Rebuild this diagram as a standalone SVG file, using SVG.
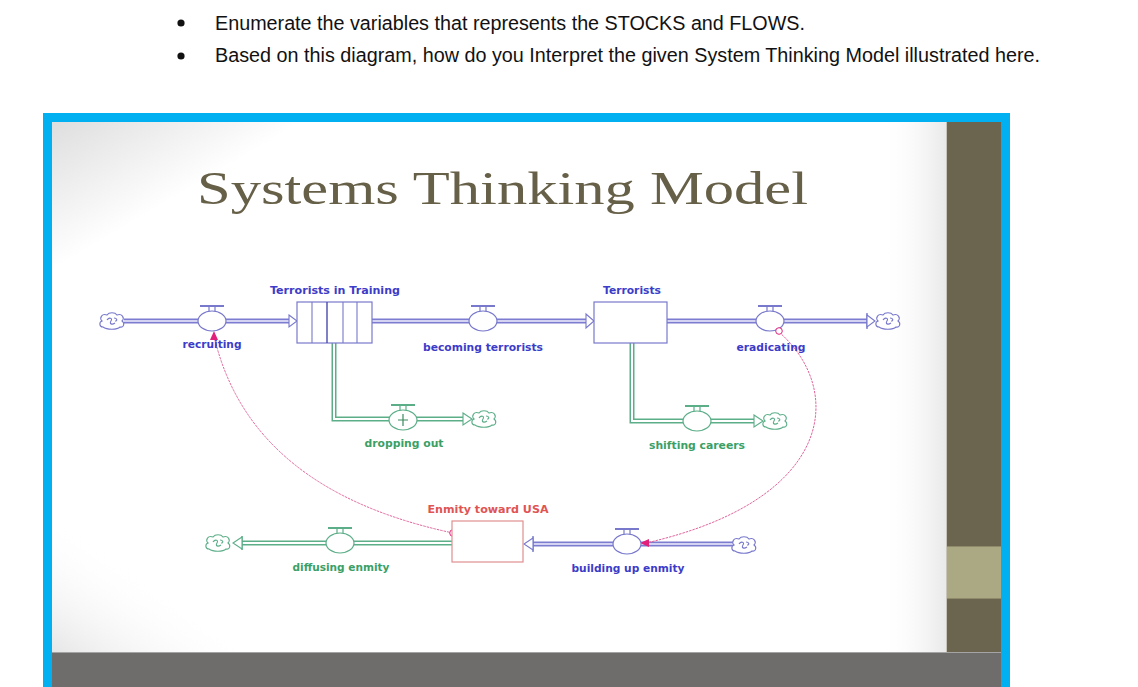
<svg xmlns="http://www.w3.org/2000/svg" xmlns:xlink="http://www.w3.org/1999/xlink" width="1138" height="687" viewBox="0 0 1138 687">
<style>
.q{font-family:"Liberation Sans Narrow","Liberation Sans",Arial,sans-serif;font-size:20px;fill:#111}
.title{font-family:"Liberation Serif","DejaVu Serif",serif;font-size:46px;fill:#676048}
.lb{font-family:"DejaVu Sans","Liberation Sans",sans-serif;font-size:10px;font-weight:bold}
.blue{fill:#3c3cc8}
.green{fill:#3aa066}
.red{fill:#e05454}
.po{fill:none;stroke-width:5}
.pi{fill:none;stroke-width:2}
.bpo{stroke:#7c7cd0}
.bpi{stroke:#d4d4f2}
.gpo{stroke:#5cae88}
.gpi{stroke:#ffffff}
.bs{stroke:#7878cc}
.gs{stroke:#5cae88}
.link{fill:none;stroke:#e0649c;stroke-width:1;stroke-dasharray:2.5 1}
.pink{fill:#e0207a}
</style>
<defs>
<linearGradient id="tl" x1="0" y1="0" x2="1" y2="1">
<stop offset="0" stop-color="#dedede"/>
<stop offset="0.14" stop-color="#ffffff"/>
<stop offset="1" stop-color="#ffffff"/>
</linearGradient>
<linearGradient id="bl" x1="0" y1="1" x2="0.35" y2="0.6">
<stop offset="0" stop-color="#e6e6e6" stop-opacity="1"/>
<stop offset="1" stop-color="#ffffff" stop-opacity="0"/>
</linearGradient>
<linearGradient id="rt" x1="0" y1="0" x2="1" y2="0">
<stop offset="0" stop-color="#ffffff" stop-opacity="0"/>
<stop offset="1" stop-color="#e8e8e8" stop-opacity="1"/>
</linearGradient>
<g id="cloud" fill="#ffffff" stroke-width="1.1">
<path d="M-9,6 C-13,6 -13,1 -10,0 C-13,-3 -10,-8 -5,-6 C-3,-9 3,-9 5,-6 C10,-8 13,-3 10,0 C13,2 12,7 8,6 C5,9 -5,9 -9,6 Z"/>
<path d="M-5,-1 C-3,-4 1,-3 -1,0 C-3,3 0,4 3,2 M2,-3 C5,-3 6,0 3,0" fill="none"/>
</g>
<g id="valve" fill="#ffffff" stroke-width="1.2">
<ellipse cx="0" cy="0" rx="14" ry="10"/>
<line x1="-12" y1="-15" x2="12" y2="-15" stroke-width="2"/>
<path d="M-3,-15 V-10 M3,-15 V-10" fill="none"/>
</g>
</defs>

<!-- top questions -->
<g id="questions">
<circle cx="181" cy="23" r="3.6" fill="#111"/>
<text class="q" x="215" y="30" textLength="590" lengthAdjust="spacingAndGlyphs">Enumerate the variables that represents the STOCKS and FLOWS.</text>
<circle cx="181" cy="56" r="3.6" fill="#111"/>
<text class="q" x="215" y="62" textLength="825" lengthAdjust="spacingAndGlyphs">Based on this diagram, how do you Interpret the given System Thinking Model illustrated here.</text>
</g>

<!-- slide frame -->
<g id="slide">
<rect x="43" y="113" width="967" height="580" fill="#00b0f0"/>
<rect x="52" y="122" width="895" height="530" fill="url(#tl)"/>
<rect x="52" y="450" width="260" height="202" fill="url(#bl)"/>
<rect x="880" y="122" width="67" height="530" fill="url(#rt)"/>
<line x1="946.5" y1="122" x2="946.5" y2="652" stroke="#c8c4b8" stroke-width="1"/>
<rect x="947" y="122" width="54" height="530" fill="#6b644f"/>
<rect x="947" y="546" width="54" height="53" fill="#aba983"/>
<line x1="947" y1="546.5" x2="1001" y2="546.5" stroke="#8f8a6a" stroke-width="1"/>
<line x1="947" y1="598.5" x2="1001" y2="598.5" stroke="#8f8a6a" stroke-width="1"/>
<rect x="52" y="652" width="949" height="35" fill="#6e6d6c"/>
<line x1="52" y1="652.5" x2="1001" y2="652.5" stroke="#a4a4a4" stroke-width="1.2"/>
<text class="title" x="197" y="204" textLength="611" lengthAdjust="spacingAndGlyphs">Systems Thinking Model</text>
</g>

<!-- connectors (pipes and links) -->
<g id="connectors">
<path class="po bpo" d="M124,321 H289"/>
<path class="pi bpi" d="M124,321 H289"/>
<polygon points="289,315 297,321 289,327" fill="#ffffff" class="bs" stroke-width="1.1"/>
<path class="po bpo" d="M372,321 H586"/>
<path class="pi bpi" d="M372,321 H586"/>
<polygon points="586,314 594,321 586,328" fill="#ffffff" class="bs" stroke-width="1.1"/>
<path class="po bpo" d="M667,321 H867"/>
<path class="pi bpi" d="M667,321 H867"/>
<path d="M867,313 V329" class="bs" stroke-width="1.4"/>
<polygon points="867,315 875,321 867,327" fill="#ffffff" class="bs" stroke-width="1.1"/>
<path class="po gpo" d="M334,343 V419 H463"/>
<path class="pi gpi" d="M334,343 V419 H463"/>
<polygon points="463,413 472,419 463,425" fill="#ffffff" class="gs" stroke-width="1.1"/>
<path class="po gpo" d="M632,343 V421 H754"/>
<path class="pi gpi" d="M632,343 V421 H754"/>
<polygon points="754,415 763,421 754,427" fill="#ffffff" class="gs" stroke-width="1.1"/>
<path class="po gpo" d="M452,543 H242"/>
<path class="pi gpi" d="M452,543 H242"/>
<path d="M242,536 V550" class="gs" stroke-width="1.4"/>
<polygon points="242,537 233,543 242,549" fill="#ffffff" class="gs" stroke-width="1.1"/>
<path class="po bpo" d="M733,544 H533"/>
<path class="pi bpi" d="M733,544 H533"/>
<path d="M533,536 V552" class="bs" stroke-width="1.4"/>
<polygon points="533,538 524,544 533,550" fill="#ffffff" class="bs" stroke-width="1.1"/>
<path class="link" d="M453,533 Q250,490 214,336"/>
<polygon class="pink" points="214,331 210,340 218,340"/>
<circle cx="453" cy="533" r="3.3" fill="#ffffff" stroke="#e0207a" stroke-width="1"/>
<path class="link" d="M779,332 C845,390 835,500 646,543"/>
<polygon class="pink" points="640,543 649,539 649,547"/>
</g>

<!-- clouds -->
<g id="clouds">
<use href="#cloud" x="112" y="321" stroke="#7878cc"/>
<use href="#cloud" x="888" y="321" stroke="#7878cc"/>
<use href="#cloud" x="484" y="419" stroke="#5cae88"/>
<use href="#cloud" x="775" y="421" stroke="#5cae88"/>
<use href="#cloud" x="218" y="543" stroke="#5cae88"/>
<use href="#cloud" x="744" y="545" stroke="#7878cc"/>
</g>

<!-- stocks -->
<g id="terrorists-in-training">
<rect x="297" y="302" width="75" height="41" fill="#ffffff" stroke="#7878cc" stroke-width="1.2"/>
<path d="M312,302 V343 M343,302 V343 M357,302 V343" stroke="#7878cc" stroke-width="1.1"/>
<path d="M327,302 V343" stroke="#4a4ab0" stroke-width="1.4"/>
<text class="lb blue" x="335" y="294" text-anchor="middle" textLength="130" lengthAdjust="spacingAndGlyphs">Terrorists in Training</text>
</g>
<g id="terrorists">
<rect x="594" y="302" width="73" height="41" fill="#ffffff" stroke="#7878cc" stroke-width="1.2"/>
<text class="lb blue" x="632" y="294" text-anchor="middle" textLength="58" lengthAdjust="spacingAndGlyphs">Terrorists</text>
</g>
<g id="enmity-toward-usa">
<rect x="452" y="521" width="71" height="41" fill="#ffffff" stroke="#e09090" stroke-width="1.2"/>
<text class="lb red" x="488" y="513" text-anchor="middle" textLength="121" lengthAdjust="spacingAndGlyphs">Enmity toward USA</text>
</g>

<!-- flows (valves) -->
<g id="recruiting">
<use href="#valve" x="212" y="321" stroke="#7878cc"/>
<text class="lb blue" x="212" y="348" text-anchor="middle" textLength="59" lengthAdjust="spacingAndGlyphs">recruiting</text>
</g>
<g id="becoming-terrorists">
<use href="#valve" x="483" y="321" stroke="#7878cc"/>
<text class="lb blue" x="483" y="351" text-anchor="middle" textLength="120" lengthAdjust="spacingAndGlyphs">becoming terrorists</text>
</g>
<g id="eradicating">
<use href="#valve" x="770" y="321" stroke="#7878cc"/>
<circle cx="779" cy="331" r="3.3" fill="#ffffff" stroke="#e0207a" stroke-width="1"/>
<text class="lb blue" x="771" y="351" text-anchor="middle" textLength="69" lengthAdjust="spacingAndGlyphs">eradicating</text>
</g>
<g id="dropping-out">
<use href="#valve" x="403" y="420" stroke="#5cae88"/>
<path d="M398,420 H408 M403,414 V426" stroke="#3a8a60" stroke-width="1.2"/>
<text class="lb green" x="404" y="447" text-anchor="middle" textLength="79" lengthAdjust="spacingAndGlyphs">dropping out</text>
</g>
<g id="shifting-careers">
<use href="#valve" x="697" y="421" stroke="#5cae88"/>
<text class="lb green" x="697" y="449" text-anchor="middle" textLength="96" lengthAdjust="spacingAndGlyphs">shifting careers</text>
</g>
<g id="diffusing-enmity">
<use href="#valve" x="340" y="543" stroke="#5cae88"/>
<text class="lb green" x="341" y="571" text-anchor="middle" textLength="97" lengthAdjust="spacingAndGlyphs">diffusing enmity</text>
</g>
<g id="building-up-enmity">
<use href="#valve" x="627" y="544" stroke="#7878cc"/>
<text class="lb blue" x="628" y="572" text-anchor="middle" textLength="113" lengthAdjust="spacingAndGlyphs">building up enmity</text>
</g>
</svg>
